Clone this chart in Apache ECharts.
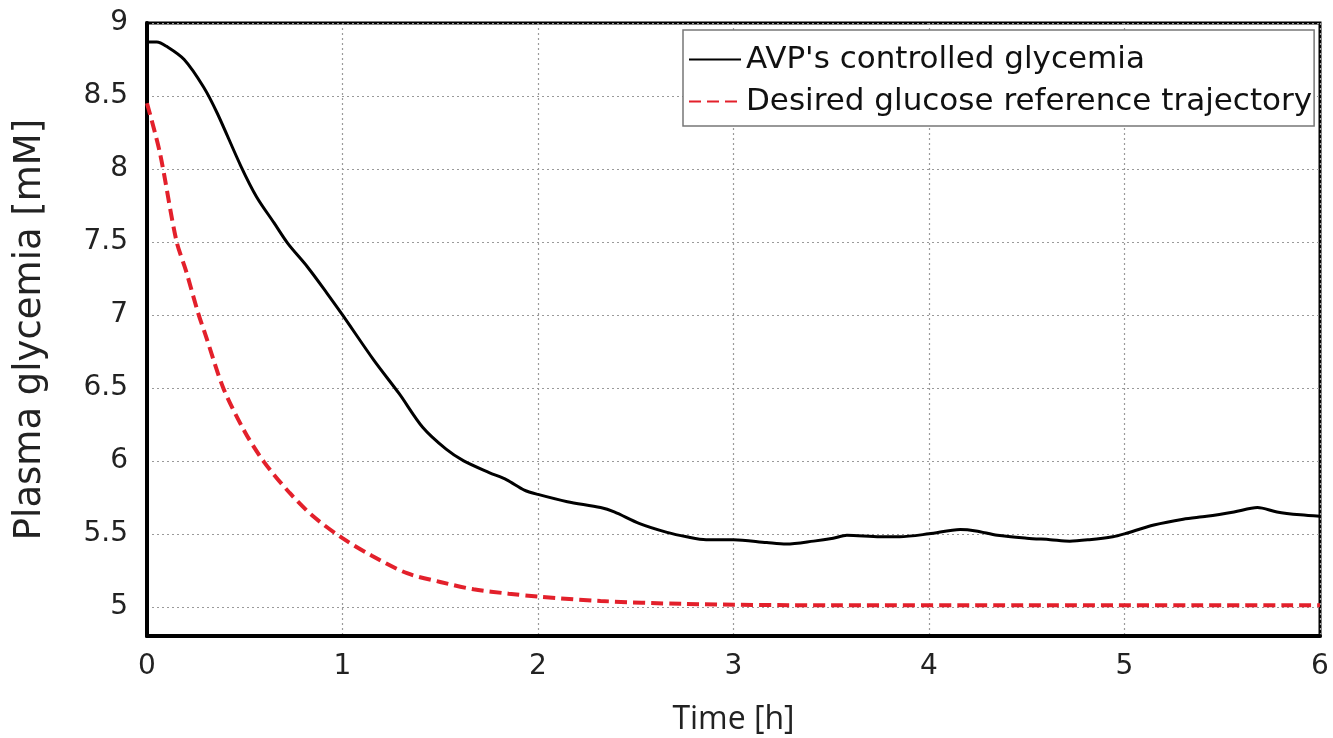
<!DOCTYPE html>
<html>
<head>
<meta charset="utf-8">
<script src="https://cdn.jsdelivr.net/npm/echarts@6/dist/echarts.min.js"></script>
<style>
html,body{margin:0;padding:0;background:#fff;}
#chart{width:1333px;height:738px;}
</style>
</head>
<body>
<div id="chart"></div>
<script>
// Data
const avpTime = [0, 0.05, 0.10, 0.19, 0.29, 0.36, 0.48, 0.56, 0.65, 0.72, 0.82, 0.92, 1.0, 1.16, 1.29, 1.41, 1.53, 1.62, 1.75, 1.84, 1.93, 2.0, 2.15, 2.32, 2.39, 2.52, 2.66, 2.76, 2.86, 3.0, 3.17, 3.27, 3.41, 3.51, 3.58, 3.75, 3.85, 4.0, 4.16, 4.24, 4.35, 4.5, 4.62, 4.72, 4.82, 4.94, 5.0, 5.15, 5.3, 5.42, 5.56, 5.68, 5.78, 5.9, 6.0];
const avpGlycemia = [8.87, 8.87, 8.84, 8.75, 8.56, 8.38, 8.02, 7.81, 7.63, 7.49, 7.33, 7.15, 7.0, 6.69, 6.46, 6.23, 6.08, 6.0, 5.92, 5.87, 5.8, 5.77, 5.72, 5.68, 5.65, 5.57, 5.51, 5.48, 5.46, 5.46, 5.44, 5.43, 5.45, 5.47, 5.49, 5.48, 5.48, 5.50, 5.53, 5.52, 5.49, 5.47, 5.46, 5.45, 5.46, 5.48, 5.50, 5.56, 5.60, 5.62, 5.65, 5.68, 5.65, 5.63, 5.62];
const refTime = [0, 0.066, 0.15, 0.2, 0.26, 0.3, 0.39, 0.5, 0.6, 0.73, 0.85, 1.0, 1.15, 1.33, 1.5, 1.67, 1.85, 2.0, 2.32, 2.74, 3.5, 4.5, 6.0];
const refGlycemia = [8.45, 8.11, 7.51, 7.3, 7.02, 6.86, 6.5, 6.2, 5.99, 5.78, 5.62, 5.47, 5.35, 5.23, 5.17, 5.12, 5.09, 5.07, 5.04, 5.02, 5.01, 5.01, 5.01];
const yTicks = [5, 5.5, 6, 6.5, 7, 7.5, 8, 8.5, 9];
const seriesNames = ["AVP's controlled glycemia", "Desired glucose reference trajectory"];

const zip = (xs, ys) => xs.map((x, i) => [x, ys[i]]);

const chart = echarts.init(document.getElementById('chart'));
chart.setOption({
  backgroundColor: '#fff',
  animation: false,
  grid: {
    left: 147, right: 13, top: 23, bottom: 102,
    outerBoundsMode: 'none', containLabel: false,
    show: true, borderColor: '#000', borderWidth: 3, backgroundColor: 'transparent'
  },
  legend: {
    left: 683, top: 30, orient: 'vertical',
    itemWidth: 52, itemHeight: 20, itemGap: 11,
    padding: [14, 2, 9, 5],
    borderColor: '#777', borderWidth: 1.5, backgroundColor: '#fff',
    itemStyle: { opacity: 0 },
    textStyle: { fontFamily: 'DejaVu Sans', fontSize: 31, color: '#111' },
    data: seriesNames
  },
  xAxis: {
    type: 'value', min: 0, max: 6, interval: 1,
    name: 'Time [h]', nameLocation: 'middle', nameGap: 68,
    nameTextStyle: { fontFamily: 'Open Sans', fontSize: 32, color: '#222' },
    axisLine: { show: true, onZero: false, lineStyle: { color: '#000', width: 4 } },
    axisTick: { show: false },
    axisLabel: { fontFamily: 'DejaVu Sans', fontSize: 28, color: '#222', margin: 17 },
    splitLine: { show: true, lineStyle: { color: '#9a9a9a', width: 1.2, type: [2, 3] } }
  },
  yAxis: {
    type: 'value', min: 4.8, max: 9,
    name: 'Plasma glycemia [mM]', nameLocation: 'middle', nameGap: 98,
    nameTextStyle: { fontFamily: 'DejaVu Sans', fontSize: 37, color: '#222' },
    axisLine: { show: true, lineStyle: { color: '#000', width: 4 } },
    axisTick: { show: false, customValues: yTicks },
    axisLabel: { fontFamily: 'DejaVu Sans', fontSize: 28, color: '#222', margin: 19, customValues: yTicks },
    splitLine: { show: true, lineStyle: { color: '#9a9a9a', width: 1.2, type: [2, 3] } }
  },
  series: [
    {
      name: seriesNames[0], type: 'line', data: zip(avpTime, avpGlycemia),
      smooth: 0.3, symbol: 'none', color: '#000',
      lineStyle: { color: '#000', width: 3 }
    },
    {
      name: seriesNames[1], type: 'line', data: zip(refTime, refGlycemia),
      smooth: 0.3, symbol: 'none', color: '#e3202b',
      lineStyle: { color: '#e3202b', width: 4, type: [12, 6] }
    }
  ]
});
</script>
</body>
</html>
